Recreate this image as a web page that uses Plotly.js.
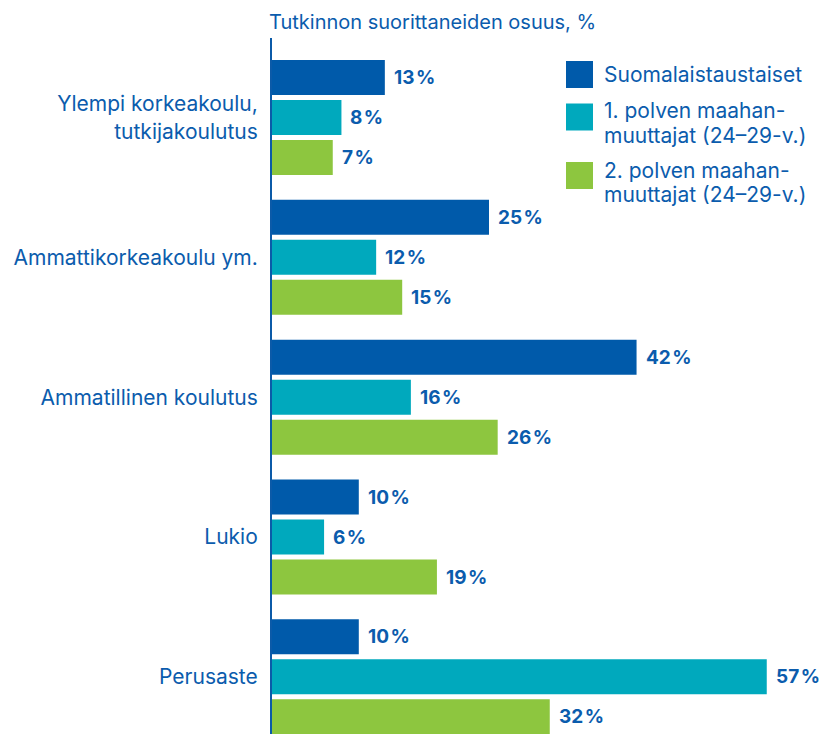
<!DOCTYPE html>
<html>
<head>
<meta charset="utf-8">
<script src="https://cdn.plot.ly/plotly-3.0.1.min.js"></script>
<style>
  html, body { margin: 0; padding: 0; background: #ffffff; }
  #chart { width: 819px; height: 734px; }
</style>
</head>
<body>
<div id="chart"></div>
<script>
// ---- data ----
const categories = [
  "Ylempi korkeakoulu,<br>tutkijakoulutus",
  "Ammattikorkeakoulu ym.",
  "Ammatillinen koulutus",
  "Lukio",
  "Perusaste"
];
const seriesNames = [
  "Suomalaistaustaiset",
  "1. polven maahanmuuttajat (24–29-v.)",
  "2. polven maahanmuuttajat (24–29-v.)"
];
const legendLines = [
  ["Suomalaistaustaiset"],
  ["1. polven maahan-", "muuttajat (24–29-v.)"],
  ["2. polven maahan-", "muuttajat (24–29-v.)"]
];
const suomalaistaustaiset = [13, 25, 42, 10, 10];
const polvi1 = [8, 12, 16, 6, 57];
const polvi2 = [7, 15, 26, 19, 32];
const axisTitle = "Tutkinnon suorittaneiden osuus, %";

// ---- styles ----
const colors = ["#005aaa", "#00a9bd", "#8dc63f"];
const textBlue = "#0b5cad";
const FONT = "Inter, 'Noto Sans', sans-serif";
const W = 819, H = 734;
const M = { l: 272, r: 0, t: 38, b: 0 };
const plotW = W - M.l - M.r, plotH = H - M.t - M.b;
const pxPerUnit = 8.68;
const xMax = plotW / pxPerUnit;

const values = [suomalaistaustaiset, polvi1, polvi2];

const traces = values.map((vals, i) => ({
  type: "bar",
  orientation: "h",
  name: seriesNames[i],
  x: vals,
  y: categories,
  marker: { color: colors[i], line: { width: 0 } },
  hoverinfo: "x+name",
  showlegend: false
}));

// value labels
const annotations = [];
const groupOffsetPx = [40, 0, -40];
values.forEach((vals, i) => {
  vals.forEach((v, j) => {
    annotations.push({
      x: v, y: categories[j], xref: "x", yref: "y",
      text: v + "\u200a%",
      showarrow: false,
      xanchor: "left", yanchor: "middle",
      xshift: 7, yshift: groupOffsetPx[i],
      font: { family: FONT, size: 19, color: textBlue, weight: 700 }
    });
  });
});

// custom legend (large squares)
const px2x = px => (px - M.l) / plotW;
const py2y = py => 1 - (py - M.t) / plotH;
const legendSquareTop = [61, 103.5, 162];
const legendLineCenters = [[75], [111, 135.5], [170.5, 194.5]];
const shapes = [];
legendLines.forEach((lines, i) => {
  shapes.push({
    type: "rect", xref: "paper", yref: "paper",
    x0: px2x(566), x1: px2x(593),
    y0: py2y(legendSquareTop[i]), y1: py2y(legendSquareTop[i] + 27),
    fillcolor: colors[i], line: { width: 0 }
  });
  lines.forEach((ln, k) => {
    annotations.push({
      xref: "paper", yref: "paper",
      x: px2x(602), y: py2y(legendLineCenters[i][k]),
      xanchor: "left", yanchor: "middle",
      text: ln, showarrow: false,
      font: { family: FONT, size: 21, color: textBlue }
    });
  });
});

const layout = {
  width: W, height: H,
  margin: M,
  paper_bgcolor: "#ffffff",
  plot_bgcolor: "#ffffff",
  barmode: "group",
  bargap: 1 - 120 / 139.82,
  bargroupgap: 0.125,
  showlegend: false,
  title: {
    text: axisTitle,
    xref: "container", yref: "container",
    x: 269 / W, xanchor: "left",
    y: 1 - 21.5 / H, yanchor: "middle",
    font: { family: FONT, size: 20, color: textBlue }
  },
  xaxis: {
    range: [0, xMax],
    showgrid: false, zeroline: false,
    showticklabels: false, ticks: "",
    showline: false, fixedrange: true
  },
  yaxis: {
    type: "category",
    range: [4.409, -0.569],
    showgrid: false, zeroline: false,
    showline: true, linecolor: "#0b5aa8", linewidth: 2,
    ticks: "", ticklabelstandoff: 8,
    tickfont: { family: FONT, size: 21, color: textBlue },
    fixedrange: true
  },
  shapes: shapes,
  annotations: annotations,
  font: { family: FONT, color: textBlue }
};

Plotly.newPlot("chart", traces, layout, { displayModeBar: false, staticPlot: true });
</script>
</body>
</html>
